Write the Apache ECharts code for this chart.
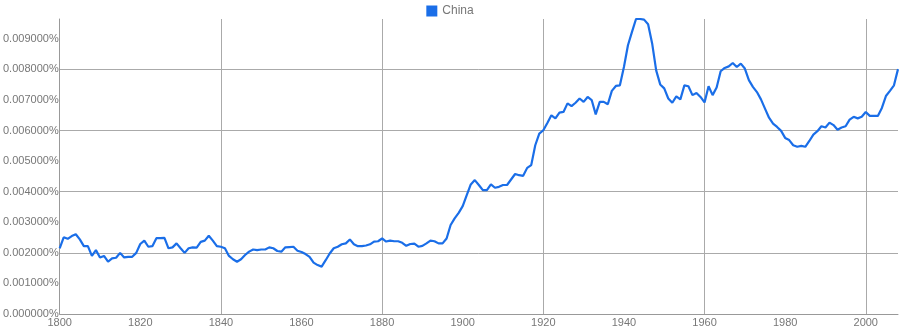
<!DOCTYPE html>
<html>
<head>
<meta charset="utf-8">
<script src="https://cdn.jsdelivr.net/npm/echarts@6/dist/echarts.min.js"></script>
<style>
html,body{margin:0;padding:0;background:#fff;}
#chart{width:900px;height:330px;}
</style>
</head>
<body>
<div id="chart"></div>
<script>
// Series name
const seriesName = 'China';
// Years 1800..2008
const years = [];
for (let y = 1800; y <= 2008; y++) years.push(y);
// Frequency values (percent)
const values = [
  0.00215, 0.00251, 0.00246, 0.00255, 0.00261, 0.00244, 0.00222, 0.00222, 0.00190, 0.00209,
  0.00185, 0.00190, 0.00171, 0.00182, 0.00184, 0.00200, 0.00185, 0.00187, 0.00187, 0.00200,
  0.00229, 0.00240, 0.00220, 0.00222, 0.00248, 0.00248, 0.00249, 0.00215, 0.00218, 0.00231,
  0.00215, 0.00200, 0.00215, 0.00218, 0.00217, 0.00236, 0.00240, 0.00256, 0.00240, 0.00222,
  0.00220, 0.00215, 0.00190, 0.00179, 0.00171, 0.00179, 0.00193, 0.00204, 0.00211, 0.00209,
  0.00211, 0.00211, 0.00218, 0.00215, 0.00206, 0.00204, 0.00218, 0.00219, 0.00220, 0.00207,
  0.00203, 0.00196, 0.00187, 0.00168, 0.00160, 0.00155, 0.00176, 0.00198, 0.00215, 0.00220,
  0.00228, 0.00231, 0.00244, 0.00228, 0.00222, 0.00222, 0.00224, 0.00228, 0.00237, 0.00238,
  0.00247, 0.00237, 0.00240, 0.00238, 0.00238, 0.00233, 0.00223, 0.00229, 0.00230, 0.00220,
  0.00223, 0.00231, 0.00240, 0.00238, 0.00231, 0.00231, 0.00247, 0.00291, 0.00313, 0.00331,
  0.00353, 0.00389, 0.00424, 0.00438, 0.00422, 0.00405, 0.00405, 0.00424, 0.00413, 0.00416,
  0.00422, 0.00422, 0.00440, 0.00458, 0.00454, 0.00452, 0.00478, 0.00487, 0.00552, 0.00590,
  0.00601, 0.00625, 0.00650, 0.00640, 0.00659, 0.00661, 0.00689, 0.00680, 0.00691, 0.00705,
  0.00694, 0.00710, 0.00700, 0.00653, 0.00694, 0.00694, 0.00686, 0.00730, 0.00746, 0.00748,
  0.00808, 0.00879, 0.00923, 0.00965, 0.00965, 0.00963, 0.00948, 0.00885, 0.00797, 0.00751,
  0.00738, 0.00705, 0.00691, 0.00712, 0.00702, 0.00748, 0.00745, 0.00716, 0.00723, 0.00710,
  0.00692, 0.00745, 0.00716, 0.00741, 0.00794, 0.00805, 0.00810, 0.00821, 0.00808, 0.00819,
  0.00803, 0.00765, 0.00743, 0.00726, 0.00702, 0.00672, 0.00642, 0.00623, 0.00612, 0.00599,
  0.00576, 0.00569, 0.00552, 0.00547, 0.00550, 0.00547, 0.00566, 0.00587, 0.00598, 0.00614,
  0.00610, 0.00626, 0.00618, 0.00603, 0.00610, 0.00614, 0.00636, 0.00645, 0.00640, 0.00645,
  0.00661, 0.00648, 0.00648, 0.00648, 0.00674, 0.00713, 0.00730, 0.00748, 0.00801
];
// Axis settings
const xMin = 1800, xMax = 2008, xStep = 20;
const yMin = 0, yMax = 0.00965, yStep = 0.001;

const data = years.map((y, i) => [y, values[i]]);
const G = '#aaaaaa', N = 'rgba(0,0,0,0)';

const chart = echarts.init(document.getElementById('chart'), null, {renderer: 'canvas'});
chart.setOption({
  animation: false,
  legend: {
    top: 0, left: 'center',
    icon: 'rect', itemWidth: 11, itemHeight: 11, itemGap: 10,
    textStyle: {color: '#777', fontSize: 12, fontFamily: 'Liberation Sans, Arial, sans-serif'},
    data: [seriesName]
  },
  grid: {left: 58, right: 2, top: 19, bottom: 16, containLabel: false},
  xAxis: {
    type: 'value', min: xMin, max: xMax, interval: xStep,
    axisLine: {show: true, lineStyle: {color: '#999', width: 1}},
    axisTick: {show: false},
    axisLabel: {color: '#777', fontSize: 11, margin: 3, showMaxLabel: false,
      fontFamily: 'Liberation Sans, Arial, sans-serif', formatter: v => String(v)},
    splitLine: {show: true, lineStyle: {color: [N, N, G, N, G, N, G, N, G, N, G, N], width: 1}}
  },
  yAxis: {
    type: 'value', min: yMin, max: yMax, interval: yStep,
    axisLine: {show: true, lineStyle: {color: '#999', width: 1}},
    axisTick: {show: false},
    axisLabel: {color: '#777', fontSize: 11, margin: 1, showMaxLabel: false,
      fontFamily: 'Liberation Sans, Arial, sans-serif',
      formatter: v => v.toFixed(6) + '%'},
    splitLine: {show: true, lineStyle: {color: [N, N, G, N, G, N, G, N, G, N, N], width: 1}}
  },
  series: [{
    name: seriesName,
    type: 'line',
    data: data,
    showSymbol: false,
    smooth: false,
    color: '#1a6ee8',
    lineStyle: {color: '#1a6ee8', width: 2.2},
    clip: true
  }]
});
</script>
</body>
</html>
